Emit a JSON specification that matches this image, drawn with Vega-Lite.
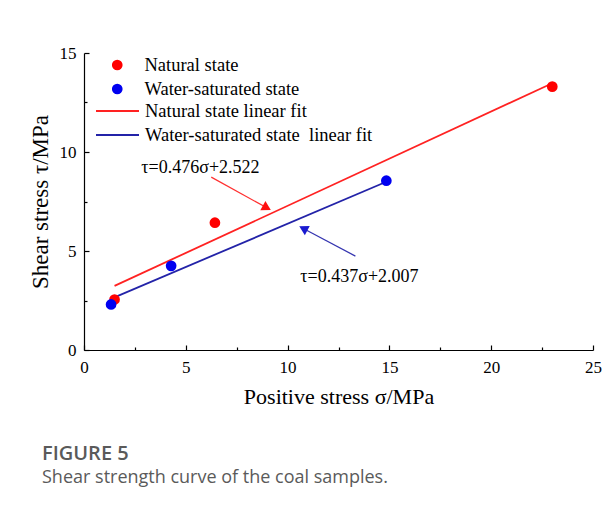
{
  "$schema": "https://vega.github.io/schema/vega-lite/v6.json",
  "width": 509,
  "height": 297,
  "autosize": {"type": "none"},
  "padding": {"left": 84, "top": 53, "right": 23, "bottom": 156},
  "background": "white",
  "config": {"view": {"stroke": null}, "font": "Liberation Serif"},
  "title": {
    "text": "FIGURE 5",
    "subtitle": "Shear strength curve of the coal samples.",
    "orient": "bottom",
    "anchor": "start",
    "frame": "group",
    "dx": -42,
    "offset": 37,
    "font": "Open Sans",
    "fontSize": 20,
    "fontWeight": 600,
    "color": "#5a5a5a",
    "subtitleFont": "Open Sans",
    "subtitleFontSize": 18,
    "subtitleColor": "#5a5a5a",
    "subtitlePadding": 5
  },
  "datasets": {
    "points": [
      {"state": "Natural state", "sigma": 1.5, "tau": 2.55},
      {"state": "Natural state", "sigma": 6.43, "tau": 6.43},
      {"state": "Natural state", "sigma": 23.0, "tau": 13.3},
      {"state": "Water-saturated state", "sigma": 1.33, "tau": 2.3},
      {"state": "Water-saturated state", "sigma": 4.28, "tau": 4.25},
      {"state": "Water-saturated state", "sigma": 14.85, "tau": 8.55}
    ],
    "fits": [
      {"fit": "Natural state linear fit", "sigma": 1.5, "tau": 3.236},
      {"fit": "Natural state linear fit", "sigma": 23.0, "tau": 13.47},
      {"fit": "Water-saturated state  linear fit", "sigma": 1.35, "tau": 2.597},
      {"fit": "Water-saturated state  linear fit", "sigma": 14.85, "tau": 8.497}
    ],
    "notes": [
      {"note": "τ=0.476σ+2.522", "sigma": 5.72, "tau": 9.2},
      {"note": "τ=0.437σ+2.007", "sigma": 13.53, "tau": 3.69}
    ],
    "arrows": [
      {"arrow": "natural", "sigma": 6.25, "tau": 8.73, "sigma2": 8.98, "tau2": 7.18},
      {"arrow": "water", "sigma": 13.33, "tau": 4.74, "sigma2": 10.77, "tau2": 6.14}
    ]
  },
  "encoding": {
    "x": {
      "field": "sigma",
      "type": "quantitative",
      "scale": {"domain": [0, 25], "nice": false, "zero": false},
      "axis": {
        "title": "Positive stress σ/MPa",
        "values": [0, 2.5, 5, 7.5, 10, 12.5, 15, 17.5, 20, 22.5, 25],
        "labelExpr": "datum.value % 5 === 0 ? datum.label : ''",
        "tickSize": {"condition": {"test": "datum.value % 5 === 0", "value": -5}, "value": -3},
        "grid": false,
        "domainColor": "black",
        "domainWidth": 1.2,
        "tickColor": "black",
        "tickWidth": 1.2,
        "labelFont": "Liberation Serif",
        "labelFontSize": 17,
        "labelColor": "black",
        "labelPadding": 14,
        "labelFlush": false,
        "labelOverlap": false,
        "titleFont": "Liberation Serif",
        "titleFontSize": 22,
        "titleFontWeight": "normal",
        "titleColor": "black",
        "titlePadding": 9
      }
    },
    "y": {
      "field": "tau",
      "type": "quantitative",
      "scale": {"domain": [0, 15], "nice": false, "zero": false},
      "axis": {
        "title": "Shear stress τ/MPa",
        "values": [0, 2.5, 5, 7.5, 10, 12.5, 15],
        "labelExpr": "datum.value % 5 === 0 ? datum.label : ''",
        "tickSize": {"condition": {"test": "datum.value % 5 === 0", "value": -5}, "value": -3},
        "grid": false,
        "domainColor": "black",
        "domainWidth": 1.2,
        "tickColor": "black",
        "tickWidth": 1.2,
        "labelFont": "Liberation Serif",
        "labelFontSize": 17,
        "labelColor": "black",
        "labelPadding": 13,
        "labelFlush": false,
        "labelOverlap": false,
        "titleFont": "Liberation Serif",
        "titleFontSize": 23,
        "titleFontWeight": "normal",
        "titleColor": "black",
        "titlePadding": 7
      }
    }
  },
  "layer": [
    {
      "data": {"name": "fits"},
      "mark": {"type": "line", "strokeWidth": 1.8},
      "encoding": {
        "stroke": {
          "field": "fit",
          "type": "nominal",
          "scale": {"domain": ["Natural state linear fit", "Water-saturated state  linear fit"], "range": ["#ff2222", "#2323a8"]},
          "legend": {
            "orient": "none",
            "legendX": 11,
            "legendY": 48,
            "title": null,
            "symbolType": "stroke",
            "symbolSize": 1849,
            "symbolStrokeWidth": 1.8,
            "labelOffset": 5,
            "clipHeight": 20,
            "rowPadding": 4,
            "padding": 0,
            "labelFont": "Liberation Serif",
            "labelFontSize": 18.5,
            "labelColor": "black",
            "labelLimit": 400,
            "labelExpr": "replace(datum.label, '  ', '\u00a0 ')"
          }
        }
      }
    },
    {
      "data": {"name": "points"},
      "mark": {"type": "point", "filled": true, "shape": "circle", "size": 115, "opacity": 1},
      "encoding": {
        "fill": {
          "field": "state",
          "type": "nominal",
          "scale": {"domain": ["Natural state", "Water-saturated state"], "range": ["#ff0000", "#0000f0"]},
          "legend": {
            "orient": "none",
            "legendX": 24,
            "legendY": 2,
            "title": null,
            "symbolType": "circle",
            "symbolSize": 115,
            "symbolStrokeWidth": 0,
            "labelOffset": 18,
            "clipHeight": 20,
            "rowPadding": 4,
            "padding": 0,
            "labelFont": "Liberation Serif",
            "labelFontSize": 18.5,
            "labelColor": "black",
            "labelLimit": 400
          }
        }
      }
    },
    {
      "data": {"name": "arrows"},
      "transform": [{"filter": "datum.arrow === 'natural'"}],
      "mark": {"type": "rule", "color": "#ff3030", "strokeWidth": 1.2},
      "encoding": {"x2": {"field": "sigma2"}, "y2": {"field": "tau2"}}
    },
    {
      "data": {"name": "arrows"},
      "transform": [{"filter": "datum.arrow === 'natural'"}],
      "mark": {"type": "point", "shape": "triangle-right", "filled": true, "color": "#ff1010", "size": 110, "angle": 29, "opacity": 1},
      "encoding": {"x": {"field": "sigma2", "type": "quantitative"}, "y": {"field": "tau2", "type": "quantitative"}}
    },
    {
      "data": {"name": "arrows"},
      "transform": [{"filter": "datum.arrow === 'water'"}],
      "mark": {"type": "rule", "color": "#3535b0", "strokeWidth": 1.2},
      "encoding": {"x2": {"field": "sigma2"}, "y2": {"field": "tau2"}}
    },
    {
      "data": {"name": "arrows"},
      "transform": [{"filter": "datum.arrow === 'water'"}],
      "mark": {"type": "point", "shape": "triangle-right", "filled": true, "color": "#1a1ad0", "size": 110, "angle": 208, "opacity": 1},
      "encoding": {"x": {"field": "sigma2", "type": "quantitative"}, "y": {"field": "tau2", "type": "quantitative"}}
    },
    {
      "data": {"name": "notes"},
      "mark": {"type": "text", "font": "Liberation Serif", "fontSize": 18, "color": "black", "align": "center", "baseline": "middle"},
      "encoding": {"text": {"field": "note"}}
    }
  ]
}
